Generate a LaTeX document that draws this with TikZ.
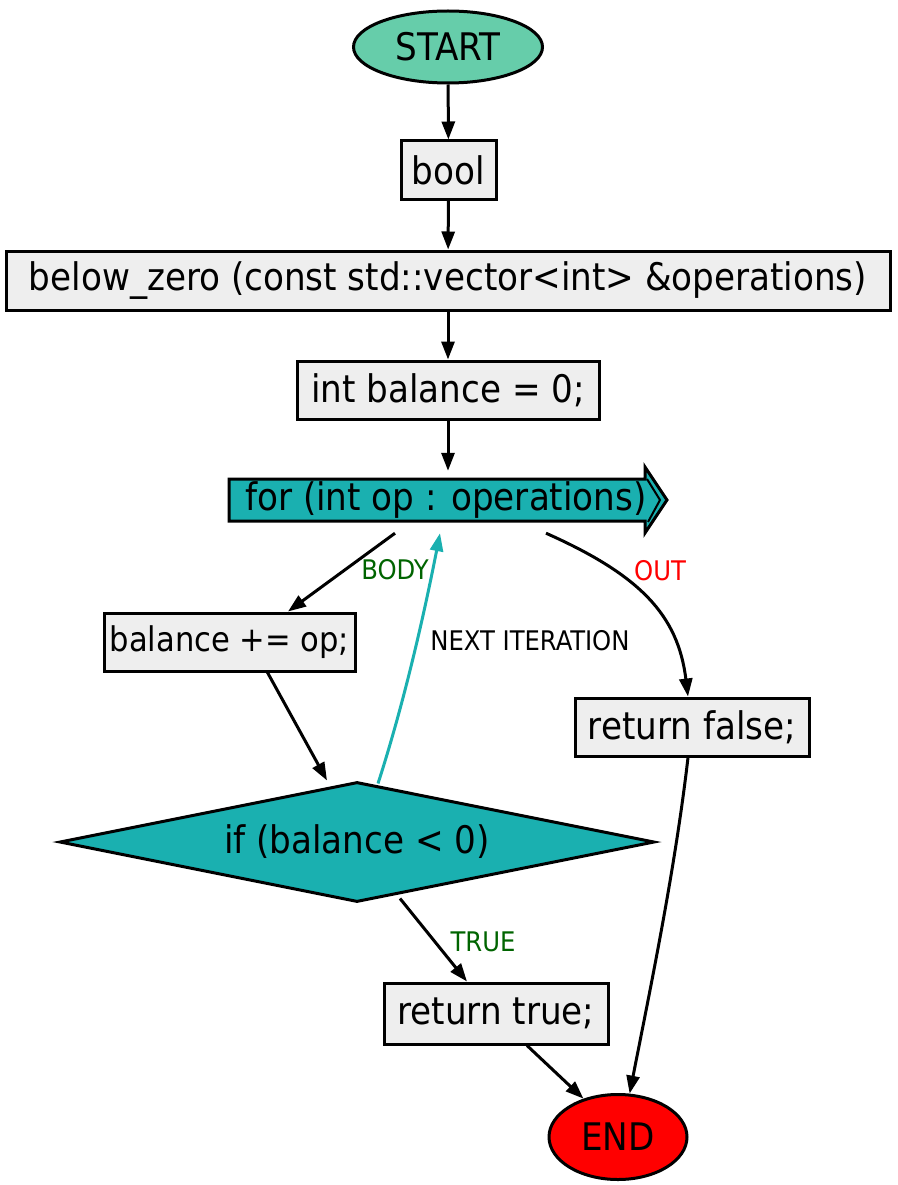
\documentclass[tikz,border=0pt]{standalone}
\usepackage{fontspec}
\setmainfont{DejaVu Sans Condensed}
\usetikzlibrary{shapes.geometric,arrows.meta}
\definecolor{startc}{HTML}{66CDAA}
\definecolor{boxc}{HTML}{EEEEEE}
\definecolor{tealc}{HTML}{1AB0B0}
\definecolor{darkg}{HTML}{006400}
\tikzset{
  main/.style={font=\fontsize{38}{44}\selectfont},
  lab/.style={font=\fontsize{27}{31}\selectfont},
  stmt/.style={main, draw, line width=3pt, fill=boxc, inner sep=0pt},
  oval/.style={main, draw, line width=3pt, ellipse, inner sep=0pt},
  tip/.style={-{Triangle[length=18pt,width=13pt]}},
  edge/.style={line width=3pt, tip},
}
\begin{document}
\begin{tikzpicture}[x=1pt,y=-1pt]
\useasboundingbox (0,0) rectangle (897,1185);
% nodes
\node[oval, fill=startc, minimum width=189pt, minimum height=72pt] (start) at (448,47) {START};
\node[stmt, minimum width=95pt, minimum height=58pt] (bool) at (448.5,170) {bool};
\node[stmt, minimum width=884pt, minimum height=59pt] (bz) at (448,280.5) {below\_zero (const std::vector<int> \&operations)};
\node[stmt, minimum width=302pt, minimum height=58pt] (ib) at (448,390) {int balance = 0;};
% for arrow
\fill[tealc] (229,479) -- (645,479) -- (645,467) -- (667,500) -- (645,533) -- (645,521) -- (229,521) -- cycle;
\draw[line width=3pt, line join=miter] (229,479) -- (645,479) -- (645,467) -- (667,500) -- (645,533) -- (645,521) -- (229,521) -- cycle;
\draw[line width=2pt] (647,479) -- (660,500) -- (648,522);
\node[main, inner sep=0pt, minimum width=438pt, minimum height=66pt] (for) at (446,500) {for (int op : operations)};
\node[stmt, minimum width=251pt, minimum height=58pt, font=\fontsize{34}{40}\selectfont] (bal) at (229.5,642) {balance += op;};
\node[main, draw, line width=3pt, diamond, aspect=5, fill=tealc, inner sep=0pt, minimum width=595pt, minimum height=120pt] (if) at (357,842) {if (balance < 0)};
\node[stmt, minimum width=234pt, minimum height=58pt] (rf) at (692,727) {return false;};
\node[stmt, minimum width=224pt, minimum height=61pt] (rt) at (496,1013.5) {return true;};
\node[oval, fill=red, minimum width=138pt, minimum height=85pt] (end) at (618,1137) {END};
% edges
\draw[edge] (start) -- (bool);
\draw[edge] (bool) -- (bz);
\draw[edge] (bz) -- (ib);
\draw[edge] (ib.south) -- ([xshift=2pt,yshift=-4pt]for.north);
\draw[edge] ([xshift=-51pt]for.south) -- (bal.north -| 288,0);
\node[lab, text=darkg] (lbody) at (395,570) {BODY};
\draw[edge, draw=tealc] (if.north -| 378,0) ++(0,3) .. controls (405,700) and (425,610) .. ([xshift=-6pt]for.south);
\draw[edge] ([xshift=38pt]bal.south) -- (if.north -| 327,0);
\node[lab] (lnext) at (530,641) {NEXT ITERATION};
\draw[edge] ([xshift=100pt]for.south) .. controls (640,575) and (678,615) .. (rf.north -| 688,0);
\node[lab, text=red] (lout) at (660,571) {OUT};
\draw[edge] (if.south -| 400,0) ++(0,-5) -- (rt.north -| 467,0);
\node[lab, text=darkg] (ltrue) at (483,942) {TRUE};
\draw[edge] (rt.south -| 527,0) -- (end.132);
\draw[edge] (rf.south -| 688,0) .. controls (675,870) and (650,990) .. (end.75);
\end{tikzpicture}
\end{document}
